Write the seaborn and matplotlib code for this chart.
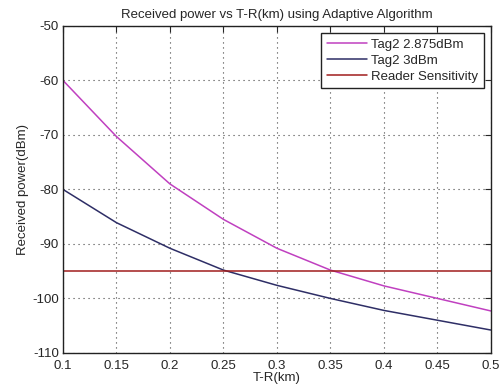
import pandas as pd
import seaborn as sns
import matplotlib.pyplot as plt

# values
distance_km = [0.1, 0.15, 0.2, 0.25, 0.3, 0.35, 0.4, 0.45, 0.5]
tag_2875 = [-60, -70.3, -79.0, -85.5, -90.8, -94.8, -97.7, -100.0, -102.3]
tag_3 = [-80, -86.1, -90.8, -94.8, -97.6, -100.0, -102.2, -104.0, -105.8]
reader_sensitivity = -95

x_ticks = [0.1, 0.15, 0.2, 0.25, 0.3, 0.35, 0.4, 0.45, 0.5]
y_ticks = [-110, -100, -90, -80, -70, -60, -50]

sns.set_style("white")
plt.rcParams['font.family'] = ['Liberation Sans', 'DejaVu Sans']
plt.rcParams['axes.unicode_minus'] = False

df = pd.DataFrame({"T-R": distance_km, "Tag2 2.875dBm": tag_2875, "Tag2 3dBm": tag_3})
df["Reader Sensitivity"] = reader_sensitivity

fig = plt.figure(figsize=(5.02, 3.87), dpi=100)
ax = fig.add_axes([0.1255, 0.088, 0.8525, 0.845])

colors = {"Tag2 2.875dBm": "#c040c0", "Tag2 3dBm": "#2e2e66", "Reader Sensitivity": "#a01c1c"}
for name in ["Tag2 2.875dBm", "Tag2 3dBm", "Reader Sensitivity"]:
    sns.lineplot(data=df, x="T-R", y=name, ax=ax, color=colors[name], label=name, linewidth=1.1)

ax.set_xlim(0.1, 0.5)
ax.set_ylim(-110, -50)
ax.set_xticks(x_ticks)
ax.set_xticklabels([f"{t:g}" for t in x_ticks])
ax.set_yticks(y_ticks)
ax.grid(True, linestyle=(0, (1, 3.5)), color="#444444", linewidth=0.8)
ax.tick_params(direction="in", top=True, right=True, length=4, labelsize=9.5, width=0.8)
ax.tick_params(axis="x", pad=5)
ax.tick_params(axis="y", pad=3)
for s in ax.spines.values():
    s.set_color("#222222")
    s.set_linewidth(1.0)

ax.set_xlabel("T-R(km)", fontsize=9.5, labelpad=0)
ax.set_ylabel("Received power(dBm)", fontsize=9.5, labelpad=2)
ax.set_title("Received power vs T-R(km) using Adaptive Algorithm", fontsize=9.5, pad=6)

leg = ax.legend(loc="upper right", fontsize=9.5, fancybox=False, framealpha=1,
                edgecolor="#222222", handlelength=3.1, borderaxespad=0.55,
                borderpad=0.4, labelspacing=0.3, handletextpad=0.3)
leg.get_frame().set_linewidth(1.0)

plt.savefig("out.png", dpi=100)
plt.close()
